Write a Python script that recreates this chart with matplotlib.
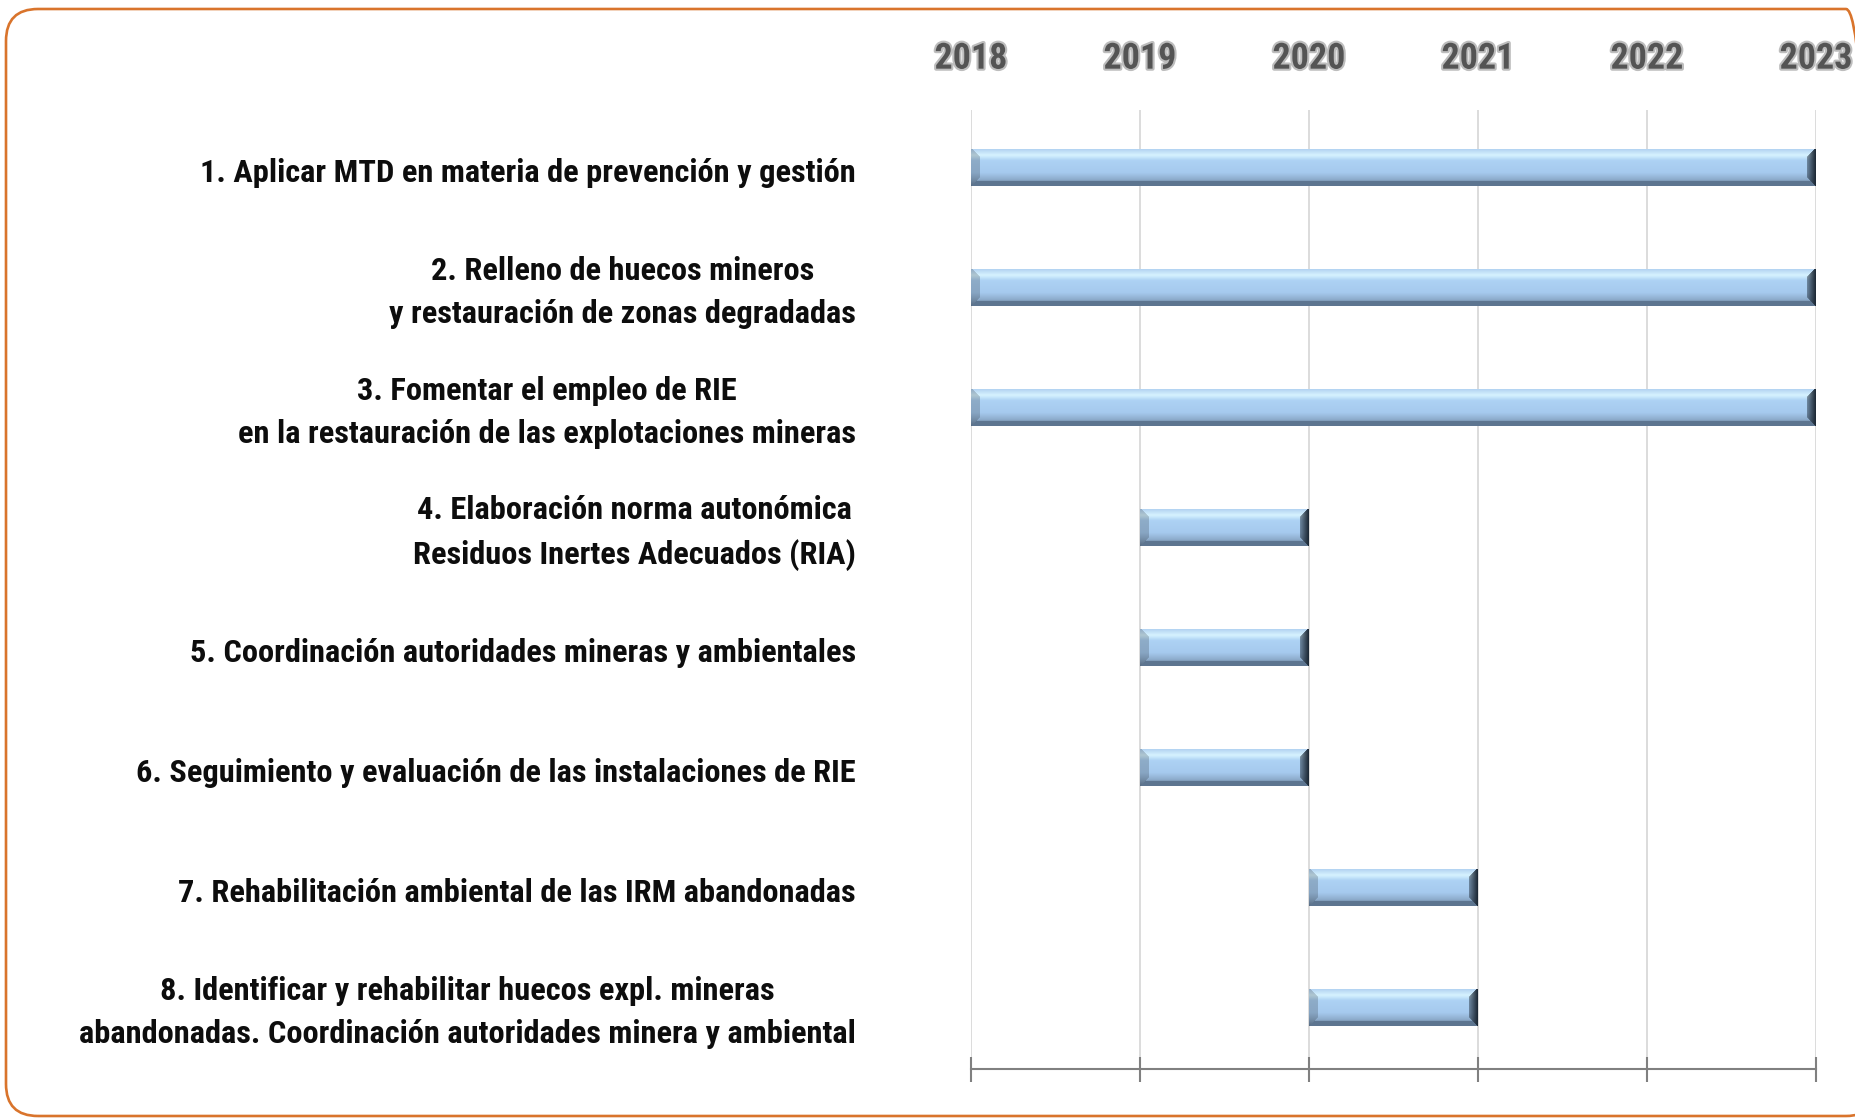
import numpy as np
import matplotlib
matplotlib.use("Agg")
import matplotlib.pyplot as plt
import matplotlib.patheffects as pe
import matplotlib.transforms as mtransforms
from matplotlib import font_manager
from matplotlib.colors import to_rgb
from matplotlib.patches import FancyBboxPatch

# ── Data ──
tasks = [
    "1. Aplicar MTD en materia de prevención y gestión",
    "2. Relleno de huecos mineros\ny restauración de zonas degradadas",
    "3. Fomentar el empleo de RIE\nen la restauración de las explotaciones mineras",
    "4. Elaboración norma autonómica\nResiduos Inertes Adecuados (RIA)",
    "5. Coordinación autoridades mineras y ambientales",
    "6. Seguimiento y evaluación de las instalaciones de RIE",
    "7. Rehabilitación ambiental de las IRM abandonadas",
    "8. Identificar y rehabilitar huecos expl. mineras\nabandonadas. Coordinación autoridades minera y ambiental",
]
start_year = [2018, 2018, 2018, 2019, 2019, 2019, 2020, 2020]
end_year = [2023, 2023, 2023, 2020, 2020, 2020, 2021, 2021]
years = [2018, 2019, 2020, 2021, 2022, 2023]


def pick_font(cands):
    for name in cands:
        try:
            font_manager.findfont(font_manager.FontProperties(family=name, weight="bold"),
                                  fallback_to_default=False)
            return name
        except ValueError:
            pass
    return "DejaVu Sans"


FONT = pick_font(["Liberation Sans Narrow", "Roboto Condensed", "Open Sans Condensed",
                  "DejaVu Sans Condensed", "Lato", "Liberation Sans"])


def hexgrad(stops, n):
    pos = np.array([p for p, _ in stops])
    cols = np.array([to_rgb(c) for _, c in stops])
    t = np.linspace(0, 1, n)
    return np.stack([np.interp(t, pos, cols[:, k]) for k in range(3)], axis=1)


def bevel_texture(w_px, h_px, b=9):
    w = max(int(round(w_px)), 2 * b + 2)
    h = int(round(h_px))
    jj, ii = np.meshgrid(np.arange(w), np.arange(h))
    dl, dr, dt, db = jj, w - 1 - jj, ii, h - 1 - ii
    face = hexgrad([(0, "#AFCFF0"), (0.18, "#D6F3FF"), (0.32, "#ADD2F4"),
                    (0.65, "#A6CAEE"), (0.82, "#90AFCF"), (1.0, "#6C86A2")], h)
    img = face[ii]
    dmin = np.minimum(np.minimum(dl, dr), np.minimum(dt, db))
    right = (dr == dmin) & (dr < b)
    left = (dl == dmin) & (dl < b) & ~right
    bottom = (db == dmin) & (db < 5) & ~right & ~left
    img[bottom] = np.array(to_rgb("#5D7590"))
    img[left] = img[left] * 0.82
    rt = (dr[right] / b)[:, None]
    dark = np.array(to_rgb("#1E2A37"))
    img[right] = dark * (1 - rt) + img[right] * rt * 0.6 + dark * rt * 0.4
    return np.clip(img, 0, 1)


fig = plt.figure(figsize=(18.56, 11.18), dpi=100)
W, H = 1856, 1118
ax_left, ax_right = 971 / W, 1816 / W
ax_bottom, ax_top = 1 - 1069 / H, 1 - 110 / H
ax = fig.add_axes([ax_left, ax_bottom, ax_right - ax_left, ax_top - ax_bottom])

# rounded orange frame (runs off the right edge)
frame = FancyBboxPatch((6 / 100, 2 / 100), (1878 - 6) / 100, (H - 9 - 2) / 100,
                       boxstyle="round,pad=0,rounding_size=0.32",
                       transform=fig.dpi_scale_trans, fill=False,
                       edgecolor="#D9742C", linewidth=1.9, zorder=0)
fig.patches.append(frame)

y = np.arange(len(tasks))
bar_h = 0.31
px_per_year = (1816 - 971) / (years[-1] - years[0])
px_per_unit = (1069 - 110) / 7.99

bars = ax.barh(y, np.array(end_year) - np.array(start_year), left=start_year,
               height=bar_h, color="#A6CBEF", zorder=2)
for rect, s, e, yy in zip(bars, start_year, end_year, y):
    tex = bevel_texture((e - s) * px_per_year, bar_h * px_per_unit)
    im = ax.imshow(tex, extent=(s, e, yy + bar_h / 2, yy - bar_h / 2), aspect="auto",
                   interpolation="bilinear", zorder=3)
    im.set_clip_path(rect)

ax.set_xlim(years[0], years[-1])
ax.set_ylim(7.51, -0.48)
ax.set_xticks(years)
ax.set_yticks([])
ax.grid(axis="x", color="#D9D9D9", linewidth=1.3, zorder=1)
ax.set_axisbelow(True)
for side in ["left", "right", "top"]:
    ax.spines[side].set_visible(False)
ax.spines["bottom"].set_color("#808080")
ax.spines["bottom"].set_linewidth(1.5)
ax.spines["bottom"].set_zorder(4)
ax.tick_params(axis="x", direction="inout", length=18, width=1.5, color="#808080",
               bottom=True, top=False, labelbottom=False, labeltop=True, pad=15)
ax.set_xticklabels([str(v) for v in years])

# task labels, right aligned block, centered lines
trans = mtransforms.blended_transform_factory(fig.transFigure, ax.transData)
trans = trans + mtransforms.ScaledTranslation(0, -5 / 100, fig.dpi_scale_trans)
labels = []
for yy, txt in zip(y, tasks):
    t = fig.text(856 / W, yy, txt, transform=trans, ha="right", va="center",
                 multialignment="center", fontsize=20, fontweight="bold",
                 family=FONT, color="#0D0D0D", linespacing=1.55)
    labels.append(t)

for lab in ax.get_xticklabels():
    lab.set_fontfamily(FONT)
    lab.set_fontweight("bold")
    lab.set_fontsize(30)
    lab.set_color("#545454")
    lab.set_path_effects([pe.withStroke(linewidth=3, foreground="#BDBDBD")])

# fit text sizes to the reference widths
fig.canvas.draw()
r = fig.canvas.get_renderer()
w1 = labels[0].get_window_extent(r).width
fs = 20 * 652 / w1
for t in labels:
    t.set_fontsize(fs)
wy = ax.get_xticklabels()[0].get_window_extent(r).width
yfs = min(30 * 73 / wy, 34)
for lab in ax.get_xticklabels():
    lab.set_fontsize(yfs)

fig.savefig("out.png", dpi=100)
